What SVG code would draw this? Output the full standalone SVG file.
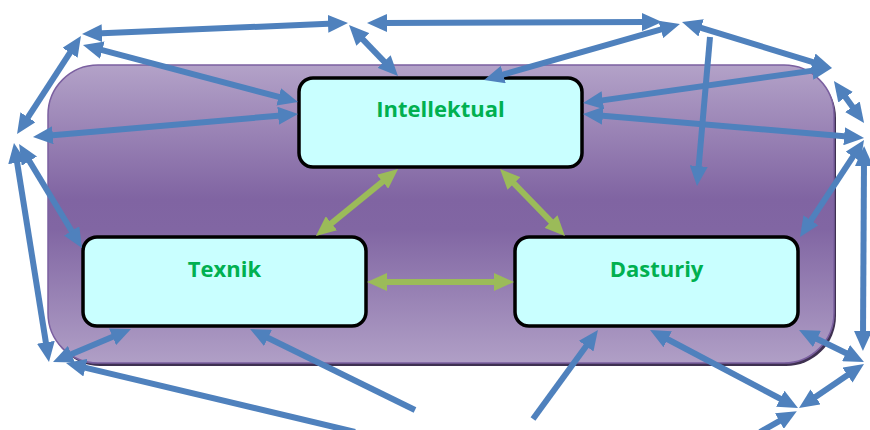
<svg xmlns="http://www.w3.org/2000/svg" width="870" height="430" viewBox="0 0 870 430">
<defs>
<linearGradient id="bg" x1="0" y1="0" x2="0" y2="1">
<stop offset="0" stop-color="#b3a2c8"/>
<stop offset="0.45" stop-color="#8064a2"/>
<stop offset="0.55" stop-color="#8166a3"/>
<stop offset="1" stop-color="#b09fc6"/>
</linearGradient>
<marker id="hb" viewBox="0 0 20 18" markerWidth="20" markerHeight="18" refX="6" refY="9" markerUnits="userSpaceOnUse" orient="auto-start-reverse">
<path d="M0,0 L20,9 L0,18 z" fill="#4f81bd"/>
</marker>
<marker id="hg" viewBox="0 0 20 18" markerWidth="20" markerHeight="18" refX="6" refY="9" markerUnits="userSpaceOnUse" orient="auto-start-reverse">
<path d="M0,0 L20,9 L0,18 z" fill="#9bbb59"/>
</marker>
</defs>
<style>
.node rect{fill:#c9ffff;stroke:#000;stroke-width:3.5}
.node text{font-family:"Open Sans","Noto Sans","DejaVu Sans",sans-serif;font-weight:bold;font-size:22px;fill:#00b050;text-anchor:middle}
.b{stroke:#4f81bd;stroke-width:6;fill:none}
.g{stroke:#9bbb59;stroke-width:6;fill:none}
.d{marker-start:url(#hb);marker-end:url(#hb)}
.s{marker-end:url(#hb)}
.dg{marker-start:url(#hg);marker-end:url(#hg)}
</style>
<g id="background">
<rect x="50" y="68" width="786" height="298" rx="50" fill="#3f3151"/>
<rect x="48" y="65" width="786" height="298" rx="50" fill="url(#bg)" stroke="#7b60a0" stroke-width="1.5"/>
</g>
<g id="node-intellektual" class="node">
<rect x="299" y="78" width="283" height="89" rx="14"/>
<text x="440.5" y="117">Intellektual</text>
</g>
<g id="node-texnik" class="node">
<rect x="83" y="237" width="283" height="89" rx="14"/>
<text x="224.5" y="277">Texnik</text>
</g>
<g id="node-dasturiy" class="node">
<rect x="515" y="237" width="283" height="89" rx="14"/>
<text x="656.5" y="277">Dasturiy</text>
</g>
<g id="connectors">
<line class="g dg" x1="387.2" y1="177.9" x2="326.8" y2="227.1"/>
<line class="g dg" x1="509.8" y1="179.1" x2="555.2" y2="225.9"/>
<line class="g dg" x1="381" y1="282" x2="500" y2="282"/>

<line class="b d" x1="96" y1="33.4" x2="334" y2="23.6"/>
<line class="b d" x1="381" y1="23" x2="648" y2="22"/>
<line class="b d" x1="358.7" y1="35.1" x2="388.3" y2="65.9"/>
<line class="b d" x1="96.5" y1="48.6" x2="284.5" y2="98.4"/>
<line class="b d" x1="73.3" y1="47.7" x2="24.7" y2="122.3"/>
<line class="b d" x1="46.9" y1="135.8" x2="284.1" y2="115.2"/>
<line class="b d" x1="16.2" y1="156.8" x2="46.8" y2="348.2"/>
<line class="b d" x1="26.3" y1="156" x2="74.7" y2="236"/>
<line class="b d" x1="65.9" y1="356.5" x2="118.1" y2="334.5"/>
<line class="b s" x1="355" y1="432" x2="79.6" y2="366.3"/>
<line class="b s" x1="415" y1="410" x2="262.6" y2="335.2"/>
<line class="b s" x1="533" y1="419" x2="589.7" y2="341.3"/>
<line class="b d" x1="662.4" y1="336.5" x2="785.6" y2="401.5"/>
<line class="b d" x1="810.6" y1="400.2" x2="852.4" y2="371.8"/>
<line class="b d" x1="811.6" y1="336.2" x2="851.4" y2="355.8"/>
<line class="b d" x1="864" y1="160" x2="863" y2="337"/>
<line class="b d" x1="856.3" y1="151.7" x2="807.7" y2="225.3"/>
<line class="b d" x1="596.9" y1="115.2" x2="850.1" y2="136.8"/>
<line class="b d" x1="596.9" y1="101.1" x2="818.1" y2="69.9"/>
<line class="b d" x1="695.4" y1="26.1" x2="818.6" y2="63.9"/>
<line class="b d" x1="497.5" y1="76.2" x2="666.5" y2="27.8"/>
<line class="b s" x1="710" y1="37" x2="698.2" y2="172.1"/>
<line class="b d" x1="842.1" y1="92.4" x2="855.9" y2="111.6"/>
<line class="b s" x1="760" y1="432" x2="784.6" y2="418.1"/>
</g>
</svg>
